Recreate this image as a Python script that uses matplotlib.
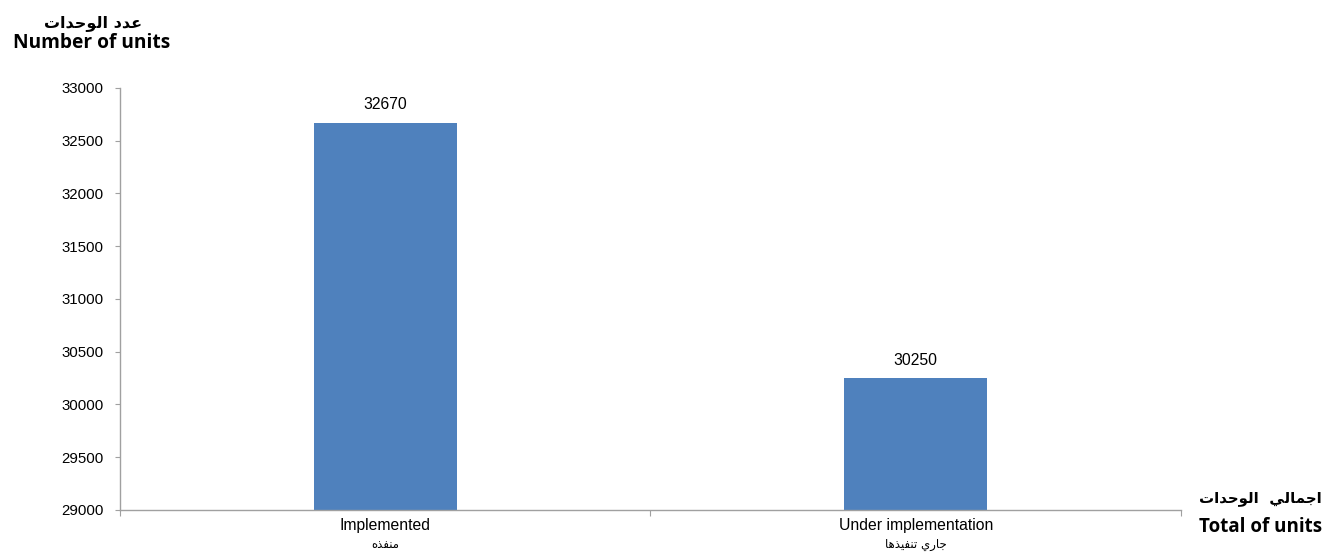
import matplotlib
matplotlib.use('Agg')
import matplotlib.pyplot as plt

plt.rcParams['font.family'] = ['Liberation Sans', 'DejaVu Sans']

# data
categories = ['Implemented', 'Under implementation']
# arabic labels, pre-shaped (presentation forms, visual order)
categories_ar = ['\uFEE9\uFEAC\uFED4\uFEE8\uFEE3',
                 '\uFE8E\uFEEB\uFEAC\uFEF4\uFED4\uFEE8\uFE97 \uFEF1\uFEAD\uFE8E\uFE9F']
values = [32670, 30250]
y_ticks = [29000, 29500, 30000, 30500, 31000, 31500, 32000, 32500, 33000]

ylabel_ar = '\uFE95\uFE8D\uFEAA\uFEA3\uFEEE\uFEDF\uFE8D \uFEA9\uFEAA\uFECB'
ylabel_en = 'Number of units'
xlabel_ar = '\uFE95\uFE8D\uFEAA\uFEA3\uFEEE\uFEDF\uFE8D  \uFEF2\uFEDF\uFE8E\uFEE4\uFE9F\uFE8D'
xlabel_en = 'Total of units'

fig = plt.figure(figsize=(13.27, 5.52), dpi=100)
ax = fig.add_axes([0.0904, 0.0761, 0.7996, 0.7645])

x = range(len(categories))
ax.bar(x, values, width=0.27, color='#4F81BD', zorder=2)
for xi, v in zip(x, values):
    ax.annotate(str(v), (xi, v), xytext=(0, 7.5), textcoords='offset points',
                ha='center', va='bottom', fontsize=11.3)

ax.set_ylim(29000, 33000)
ax.set_xlim(-0.5, 1.5)
ax.set_yticks(y_ticks)
ax.tick_params(axis='y', labelsize=10.8, length=3.6, color='#A0A0A0', pad=8)

# x ticks at category boundaries, labels in the middle
ax.set_xticks([-0.5, 0.5, 1.5])
ax.set_xticklabels([])
ax.tick_params(axis='x', length=4, color='#A0A0A0')
for xi, en, ar in zip(x, categories, categories_ar):
    ax.text(xi, -0.018, en, transform=ax.get_xaxis_transform(), ha='center', va='top', fontsize=11.3)
    ax.text(xi, -0.066, ar, transform=ax.get_xaxis_transform(), ha='center', va='top',
            fontsize=8.5, family=['DejaVu Sans'])

for s in ['top', 'right']:
    ax.spines[s].set_visible(False)
for s in ['left', 'bottom']:
    ax.spines[s].set_color('#A0A0A0')
    ax.spines[s].set_linewidth(1)

# axis titles
fig.text(0.0705, 0.958, ylabel_ar, ha='center', va='center', fontsize=11.5,
         fontweight='bold', family=['DejaVu Sans'])
fig.text(0.0690, 0.922, ylabel_en, ha='center', va='center', fontsize=13.8,
         fontweight='bold', family=['Open Sans', 'DejaVu Sans'])
fig.text(0.9500, 0.097, xlabel_ar, ha='center', va='center', fontsize=10.8,
         fontweight='bold', family=['DejaVu Sans'])
fig.text(0.9500, 0.046, xlabel_en, ha='center', va='center', fontsize=13.5,
         fontweight='bold', family=['Open Sans', 'DejaVu Sans'])

fig.savefig('out.png', dpi=100)
